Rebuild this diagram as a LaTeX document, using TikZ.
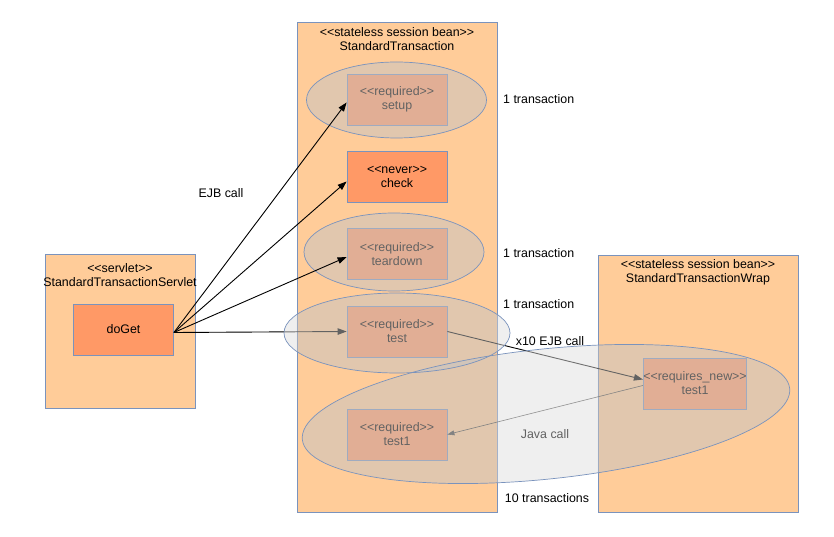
\documentclass[tikz,border=0pt]{standalone}
\usepackage{fontspec}
\setmainfont{Liberation Sans}
\usetikzlibrary{arrows.meta}
\definecolor{boxfill}{HTML}{FFCC99}
\definecolor{methfill}{HTML}{FF9966}
\definecolor{edgec}{HTML}{7A93BD}
\definecolor{ellfill}{HTML}{C4C4C4}
\definecolor{ellfillw}{HTML}{E0E0E0}
\begin{document}
\begin{tikzpicture}[x=1pt,y=-1pt,
  font=\fontsize{12.4}{14}\selectfont,
  container/.style={draw=edgec, fill=boxfill, line width=0.8pt, inner sep=0pt},
  method/.style={draw=edgec, fill=methfill, line width=0.8pt, inner sep=0pt,
     minimum width=100pt, minimum height=51pt, align=center},
  title/.style={align=center, inner sep=0pt},
  txnin/.style={fill=ellfill, fill opacity=0.5},
  txnout/.style={fill=ellfillw, fill opacity=0.5},
  txnline/.style={draw=edgec, line width=0.7pt},
  arr/.style={-{Triangle[length=9pt,width=6.5pt]}, line width=0.9pt, black},
  jarr/.style={-{Triangle[length=7pt,width=5pt]}, line width=0.6pt, black!75},
  lbl/.style={inner sep=0pt}
]
\useasboundingbox (0,0) rectangle (834,537);
\fill[white] (0,0) rectangle (834,537);

% containers
\node[container, minimum width=150pt, minimum height=154pt] (servlet) at (120,331) {};
\node[title] (servletT) at (120,275) {<{}<servlet>{}>\\StandardTransactionServlet};
\node[container, minimum width=200pt, minimum height=490pt] (st) at (397,267) {};
\node[title] (stT) at (397,39) {<{}<stateless session bean>{}>\\StandardTransaction};
\node[container, minimum width=200pt, minimum height=257pt] (wrap) at (698,383.5) {};
\node[title] (wrapT) at (698,272) {<{}<stateless session bean>{}>\\StandardTransactionWrap};

% methods
\node[method] (doGet) at (123.5,329.5) {doGet};
\node[method] (setup) at (397,99.5) {<{}<required>{}>\\setup};
\node[method] (check) at (397,176.5) {<{}<never>{}>\\check};
\node[method] (teardown) at (397,254) {<{}<required>{}>\\teardown};
\node[method] (test) at (397,331.5) {<{}<required>{}>\\test};
\node[method] (test1) at (397,434.5) {<{}<required>{}>\\test1};
\node[method] (reqnew) at (695,383.5) {<{}<requires\_new>{}>\\test1};

\coordinate (src) at ([yshift=-3pt]doGet.east);

% arrows below the transaction ellipses
\draw[arr] (src) -- (test.west);
\draw[arr] (test.east) -- ([yshift=4pt]reqnew.west);
\draw[jarr] ([yshift=-2pt]reqnew.west) -- (test1.east);

% transactions: fill inside the beans
\begin{scope}
\clip (st.south west) rectangle (st.north east) (wrap.south west) rectangle (wrap.north east);
\fill[txnin] (396.5,100) ellipse [x radius=90, y radius=38];
\fill[txnin] (394,252) ellipse [x radius=90, y radius=39];
\fill[txnin] (397,333) ellipse [x radius=113, y radius=40];
\fill[txnin, rotate around={6:(546,414)}] (546,414) ellipse [x radius=245, y radius=65];
\end{scope}
% transactions: fill over the white page
\begin{scope}[even odd rule]
\clip (0,0) rectangle (834,537) (st.south west) rectangle (st.north east) (wrap.south west) rectangle (wrap.north east);
\fill[txnout] (397,333) ellipse [x radius=113, y radius=40];
\fill[txnout, rotate around={6:(546,414)}] (546,414) ellipse [x radius=245, y radius=65];
\end{scope}
\draw[txnline] (396.5,100) ellipse [x radius=90, y radius=38];
\draw[txnline] (394,252) ellipse [x radius=90, y radius=39];
\draw[txnline] (397,333) ellipse [x radius=113, y radius=40];
\draw[txnline, rotate around={6:(546,414)}] (546,414) ellipse [x radius=245, y radius=65];

% arrows above
\draw[arr] (src) -- ([yshift=-3pt]setup.west);
\draw[arr] (src) -- ([yshift=-5pt]check.west);
\draw[arr] (src) -- ([yshift=-3pt]teardown.west);

% labels
\node[lbl, text=black!62] (java) at (545,434) {Java call};
\node[lbl] (ejb) at (221,193) {EJB call};
\node[lbl, anchor=west] (t1) at (503,99) {1 transaction};
\node[lbl, anchor=west] (t2) at (503,253) {1 transaction};
\node[lbl, anchor=west] (t3) at (503,304) {1 transaction};
\node[lbl] (x10) at (550,341) {x10 EJB call};
\node[lbl] (t10) at (547,498) {10 transactions};
\end{tikzpicture}
\end{document}
